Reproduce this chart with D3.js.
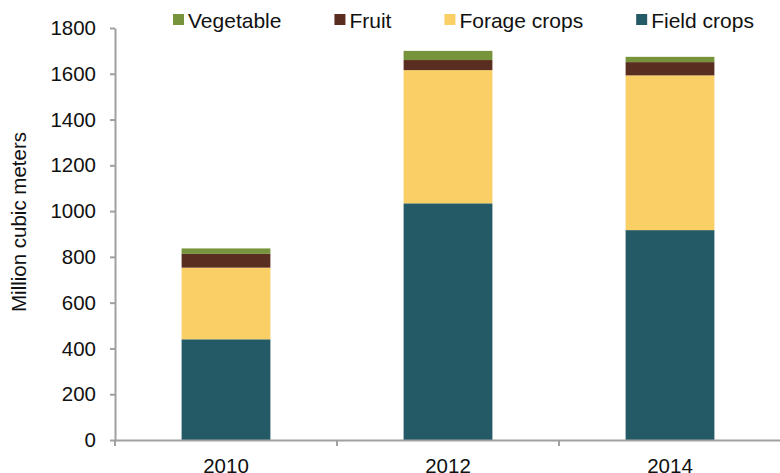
<!DOCTYPE html>
<html>
<head>
<meta charset="utf-8">
<script src="https://cdn.jsdelivr.net/npm/d3@7"></script>
<style>
  body { margin: 0; background: #fff; }
  text { font-family: "Liberation Sans", Arial, sans-serif; fill: #111; }
</style>
</head>
<body>
<div class="chart"></div>
<script>
// chart data
var years = ["2010", "2012", "2014"];
var fieldCrops = [440, 1034, 917];
var forageCrops = [313, 582, 676];
var fruit = [60, 44, 58];
var vegetable = [24, 40, 23];
var yTicks = [0, 200, 400, 600, 800, 1000, 1200, 1400, 1600, 1800];

var seriesNames = ["Field crops", "Forage crops", "Fruit", "Vegetable"];
var seriesColors = ["#245a66", "#f9cf66", "#5a2d21", "#77933c"];
var legendOrder = ["Vegetable", "Fruit", "Forage crops", "Field crops"];

var svgWidth = 780;
var svgHeight = 473;

var margin = { top: 28, right: 0, bottom: 33, left: 115 };
var width = svgWidth - margin.left - margin.right + 1;
var height = svgHeight - margin.top - margin.bottom;

var svg = d3.select(".chart")
    .append("svg")
    .attr("width", svgWidth)
    .attr("height", svgHeight);

var chartGroup = svg.append("g")
    .attr("transform", `translate(${margin.left}, ${margin.top})`);

// build table for the stack
var table = years.map(function (y, i) {
    return {
        year: y,
        "Field crops": fieldCrops[i],
        "Forage crops": forageCrops[i],
        "Fruit": fruit[i],
        "Vegetable": vegetable[i]
    };
});

var stacked = d3.stack().keys(seriesNames)(table);

var xScale = d3.scaleBand()
    .domain(years)
    .range([0, width])
    .paddingInner(0.6)
    .paddingOuter(0.3);

var yScale = d3.scaleLinear()
    .domain([0, 1800])
    .range([height, 0]);

var color = d3.scaleOrdinal()
    .domain(seriesNames)
    .range(seriesColors);

// bars
chartGroup.selectAll(".series")
    .data(stacked)
    .enter()
    .append("g")
    .attr("fill", d => color(d.key))
    .selectAll("rect")
    .data(d => d)
    .enter()
    .append("rect")
    .attr("x", d => xScale(d.data.year))
    .attr("y", d => yScale(d[1]))
    .attr("height", d => yScale(d[0]) - yScale(d[1]))
    .attr("width", xScale.bandwidth());

// y axis
var leftAxis = d3.axisLeft(yScale)
    .tickValues(yTicks)
    .tickFormat(d3.format("d"))
    .tickSize(5)
    .tickPadding(14)
    .tickSizeOuter(0);

var yAxisG = chartGroup.append("g").call(leftAxis);
yAxisG.select(".domain").attr("stroke", "#a0a0a0").attr("stroke-width", 2);
yAxisG.selectAll(".tick line").attr("stroke", "#a0a0a0").attr("stroke-width", 2);
yAxisG.selectAll(".tick text")
    .attr("font-size", "20.5px")
    .attr("font-family", "Liberation Sans, Arial, sans-serif")
    .attr("fill", "#111");

// x axis
var bottomAxis = d3.axisBottom(xScale)
    .tickSize(0)
    .tickPadding(18)
    .tickSizeOuter(0);

var xAxisG = chartGroup.append("g")
    .attr("transform", `translate(0, ${height})`)
    .call(bottomAxis);
xAxisG.select(".domain").attr("stroke", "#a0a0a0").attr("stroke-width", 2);
xAxisG.selectAll(".tick text")
    .attr("font-size", "20.5px")
    .attr("font-family", "Liberation Sans, Arial, sans-serif")
    .attr("fill", "#111");

// category separator ticks
var step = xScale.step();
var bounds = years.map(y => xScale(y) + xScale.bandwidth() / 2 + step / 2).slice(0, years.length - 1);
bounds.unshift(xScale(years[0]) + xScale.bandwidth() / 2 - step / 2);
xAxisG.selectAll(".sep")
    .data(bounds)
    .enter()
    .append("line")
    .attr("x1", d => d)
    .attr("x2", d => d)
    .attr("y1", 0)
    .attr("y2", 6)
    .attr("stroke", "#a0a0a0")
    .attr("stroke-width", 2);

// y axis title
chartGroup.append("text")
    .attr("transform", "rotate(-90)")
    .attr("x", 0 - (height / 2) + 12)
    .attr("y", 25.5 - margin.left)
    .attr("text-anchor", "middle")
    .attr("font-size", "20.5px")
    .text("Million cubic meters");

// legend
var legend = svg.append("g").attr("transform", "translate(173, 0)");
var xPos = 0;
legendOrder.forEach(function (name) {
    var item = legend.append("g").attr("transform", `translate(${xPos}, 0)`);
    item.append("rect")
        .attr("x", 0)
        .attr("y", 14)
        .attr("width", 11)
        .attr("height", 11)
        .attr("fill", color(name));
    var t = item.append("text")
        .attr("x", 15)
        .attr("y", 28)
        .attr("font-size", "21px")
        .text(name);
    xPos += 15 + t.node().getComputedTextLength() + 53;
});
</script>
</body>
</html>
